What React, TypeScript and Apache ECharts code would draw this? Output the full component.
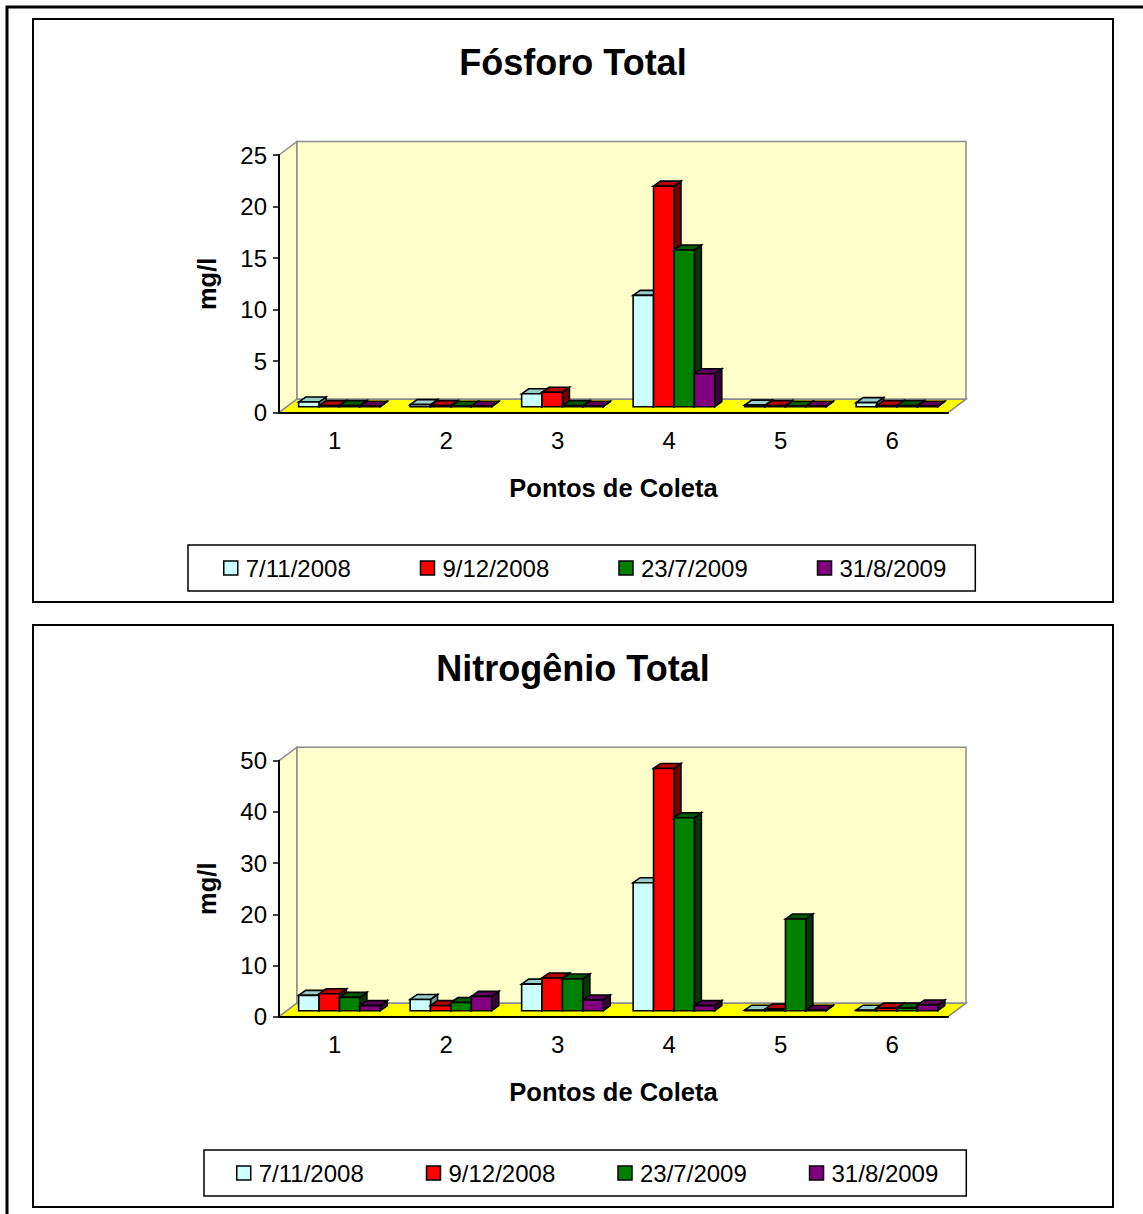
import React, { useEffect, useRef } from "react";
import * as echarts from "echarts";

// ---------- data ----------
const categories = ["1", "2", "3", "4", "5", "6"];
const seriesNames = ["7/11/2008", "9/12/2008", "23/7/2009", "31/8/2009"];

const fosforo_7_11_2008 = [0.45, 0.2, 1.25, 10.8, 0.15, 0.4];
const fosforo_9_12_2008 = [0.1, 0.1, 1.4, 21.4, 0.1, 0.1];
const fosforo_23_7_2009 = [0.1, 0.05, 0.1, 15.2, 0.05, 0.1];
const fosforo_31_8_2009 = [0.05, 0.05, 0.05, 3.2, 0.05, 0.05];

const nitrogenio_7_11_2008 = [3.0, 2.2, 5.2, 25.0, 0.1, 0.1];
const nitrogenio_9_12_2008 = [3.3, 1.0, 6.4, 47.3, 0.3, 0.5];
const nitrogenio_23_7_2009 = [2.6, 1.6, 6.2, 37.7, 17.9, 0.5];
const nitrogenio_31_8_2009 = [1.0, 2.8, 2.1, 1.0, 0.1, 1.1];

const fosforoAxis = { min: 0, max: 25, interval: 5 };
const nitrogenioAxis = { min: 0, max: 50, interval: 10 };

const titles = ["Fósforo Total", "Nitrogênio Total"];
const xAxisName = "Pontos de Coleta";
const yAxisName = "mg/l";

// ---------- style ----------
const FONT = "'Liberation Sans', Arial, sans-serif";
const colors = ["#CCFFFF", "#FF0000", "#008000", "#800080"];
const topColors = ["#99CCCC", "#B80000", "#005800", "#5A005A"];
const sideColors = ["#6E9A9A", "#780000", "#003A00", "#3C003C"];
const WALL = "#FFFFCC";
const FLOOR = "#FFFF00";
const EDGE = "#8C8C8C";
const DX = 18; // depth of the 3D box
const DY = -13.5;
const FRONT_DX = 4.7; // bars front face offset
const FRONT_DY = -6;
const BDX = 7; // bar depth
const BDY = -5;
const BAR_FRAC = 0.183;

const grids = [
  { left: 279, top: 155, width: 669, height: 257.7 },
  { left: 279, top: 760.7, width: 669, height: 256 },
];

function frameRender(params: any) {
  const cs = params.coordSys;
  const x = cs.x, y = cs.y, w = cs.width, h = cs.height;
  const st = (fill: string) => ({ fill, stroke: EDGE, lineWidth: 1.5 });
  return {
    type: "group",
    children: [
      {
        type: "polygon",
        shape: { points: [[x, y], [x + DX, y + DY], [x + DX, y + h + DY], [x, y + h]] },
        style: st(WALL),
      },
      { type: "rect", shape: { x: x + DX, y: y + DY, width: w, height: h }, style: st(WALL) },
      {
        type: "polygon",
        shape: { points: [[x, y + h], [x + w, y + h], [x + w + DX, y + h + DY], [x + DX, y + h + DY]] },
        style: st(FLOOR),
      },
    ],
  };
}

function barRender(si: number) {
  return (params: any, api: any) => {
    const c = api.value(0);
    const v = api.value(1);
    const p0 = api.coord([c, 0]);
    const p1 = api.coord([c, v]);
    const band = api.size([1, 0])[0];
    const bw = band * BAR_FRAC;
    const l = p0[0] + FRONT_DX - 2 * bw + si * bw;
    const r = l + bw;
    const by = p0[1] + FRONT_DY;
    const ty = Math.min(p1[1] + FRONT_DY, by - 0.5);
    const line = { stroke: "#000", lineWidth: 1.6, lineJoin: "miter" };
    return {
      type: "group",
      children: [
        {
          type: "polygon",
          shape: { points: [[r, ty], [r + BDX, ty + BDY], [r + BDX, by + BDY], [r, by]] },
          style: { fill: sideColors[si], ...line },
        },
        {
          type: "polygon",
          shape: { points: [[l, ty], [l + BDX, ty + BDY], [r + BDX, ty + BDY], [r, ty]] },
          style: { fill: topColors[si], ...line },
        },
        {
          type: "polygon",
          shape: { points: [[l, ty], [r, ty], [r, by], [l, by]] },
          style: { fill: colors[si], ...line },
        },
      ],
    };
  };
}

export default function App() {
  const ref = useRef<HTMLDivElement>(null);
  useEffect(() => {
    if (!ref.current) return;
    const chart = echarts.init(ref.current, undefined, { renderer: "svg" });
    const datasets = [
      [fosforo_7_11_2008, fosforo_9_12_2008, fosforo_23_7_2009, fosforo_31_8_2009],
      [nitrogenio_7_11_2008, nitrogenio_9_12_2008, nitrogenio_23_7_2009, nitrogenio_31_8_2009],
    ];
    const axes = [fosforoAxis, nitrogenioAxis];
    const textBase = { color: "#000", fontFamily: FONT };

    const series: any[] = [];
    datasets.forEach((group, gi) => {
      series.push({
        type: "custom",
        name: "frame" + gi,
        xAxisIndex: gi,
        yAxisIndex: gi,
        z: -1,
        silent: true,
        renderItem: frameRender,
        data: [[0, 0]],
      });
      group.forEach((vals, si) => {
        series.push({
          type: "custom",
          name: seriesNames[si],
          xAxisIndex: gi,
          yAxisIndex: gi,
          itemStyle: { color: colors[si] },
          renderItem: barRender(si),
          data: vals.map((v, i) => [i, v]),
        });
      });
    });

    chart.setOption({
      animation: false,
      backgroundColor: "#fff",
      title: titles.map((t, i) => ({
        text: t,
        left: 573,
        textAlign: "center",
        top: i === 0 ? 44 : 650,
        padding: 0,
        textStyle: { ...textBase, fontSize: 36, fontWeight: "bold" },
      })),
      grid: grids.map((g) => ({ ...g, containLabel: false })),
      xAxis: grids.map((_, gi) => ({
        type: "category",
        gridIndex: gi,
        data: categories,
        axisLine: { lineStyle: { color: "#000", width: 2 } },
        axisTick: { length: 6, lineStyle: { color: "#000", width: 1.5 } },
        axisLabel: { ...textBase, fontSize: 24, margin: 16 },
        name: xAxisName,
        nameLocation: "middle",
        nameGap: 62,
        nameTextStyle: { ...textBase, fontSize: 25.5, fontWeight: "bold" },
      })),
      yAxis: grids.map((_, gi) => ({
        type: "value",
        gridIndex: gi,
        ...axes[gi],
        axisLine: { show: true, lineStyle: { color: "#000", width: 2 } },
        axisTick: { show: true, length: 6, lineStyle: { color: "#000", width: 1.5 } },
        splitLine: { show: false },
        axisLabel: { ...textBase, fontSize: 24, margin: 12 },
        name: yAxisName,
        nameLocation: "middle",
        nameRotate: 90,
        nameGap: 59,
        nameTextStyle: { ...textBase, fontSize: 25.5, fontWeight: "bold" },
      })),
      legend: [
        { left: 188, top: 545, padding: [11, 29, 11, 35], itemGap: 69 },
        { left: 204, top: 1150, padding: [11, 28, 11, 32], itemGap: 62 },
      ].map((l) => ({
        ...l,
        data: seriesNames,
        orient: "horizontal",
        icon: "rect",
        itemWidth: 14,
        itemHeight: 14,
        borderColor: "#000",
        borderWidth: 1.5,
        selectedMode: false,
        itemStyle: { borderColor: "#000", borderWidth: 1.5 },
        textStyle: { ...textBase, fontSize: 24, padding: [0, 0, 0, 3] },
      })),
      graphic: [
        {
          type: "rect",
          shape: { x: 7, y: 7, width: 1300, height: 1400 },
          style: { fill: "none", stroke: "#000", lineWidth: 3 },
          z: 10,
        },
        {
          type: "rect",
          shape: { x: 33, y: 19, width: 1080, height: 583 },
          style: { fill: "none", stroke: "#000", lineWidth: 2 },
          z: 10,
        },
        {
          type: "rect",
          shape: { x: 33, y: 625, width: 1080, height: 582 },
          style: { fill: "none", stroke: "#000", lineWidth: 2 },
          z: 10,
        },
      ],
      series,
    });
    return () => chart.dispose();
  }, []);
  return (
    <div
      ref={ref}
      style={{ position: "absolute", left: 0, top: 0, width: 1143, height: 1214 }}
    />
  );
}
